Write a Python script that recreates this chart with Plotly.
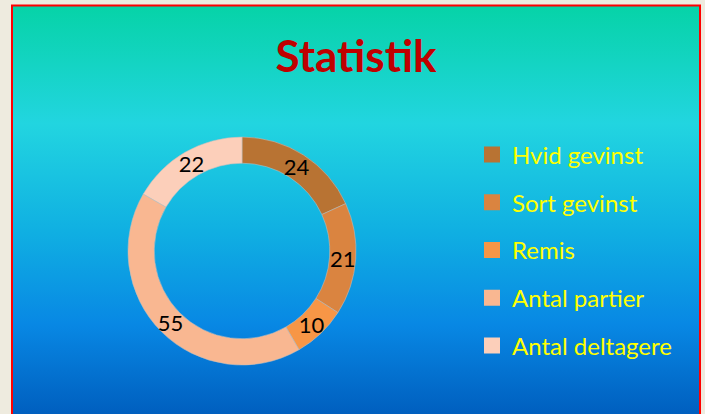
import base64
import plotly.graph_objects as go

labels = ["Hvid gevinst", "Sort gevinst", "Remis", "Antal partier", "Antal deltagere"]
values = [24, 21, 10, 55, 22]
colors = ["#B87333", "#DA8440", "#F79646", "#F9B791", "#FCCFBA"]
title_text = "Statistik"

W, H = 705, 414
FONT = "Lato"
CX, CY = 242, 251          # donut centre (px from top-left)
R_OUT = 114                # outer radius (px)
R_TXT = 122                # radius of the helper ring that carries the labels


def dom(r):
    return dict(x=[(CX - r) / W, (CX + r) / W],
                y=[(H - CY - r) / H, (H - CY + r) / H])


svg = (
    '<svg xmlns="http://www.w3.org/2000/svg" width="100" height="100" preserveAspectRatio="none">'
    '<defs><linearGradient id="g" x1="0" y1="0" x2="0" y2="1">'
    '<stop offset="0" stop-color="#06D3A7"/>'
    '<stop offset="0.29" stop-color="#22D5E0"/>'
    '<stop offset="0.55" stop-color="#10B0E2"/>'
    '<stop offset="0.78" stop-color="#0888E4"/>'
    '<stop offset="1" stop-color="#005FBF"/>'
    '</linearGradient></defs>'
    '<rect width="100" height="100" fill="url(#g)"/></svg>'
)
bg_src = "data:image/svg+xml;base64," + base64.b64encode(svg.encode()).decode()

fig = go.Figure()

# visible donut
fig.add_trace(go.Pie(
    labels=labels,
    values=values,
    hole=0.77,
    sort=False,
    direction="clockwise",
    rotation=0,
    marker=dict(colors=colors, line=dict(color="rgba(190,190,190,0.8)", width=0.7)),
    textinfo="none",
    hoverinfo="label+value",
    domain=dom(R_OUT),
    showlegend=False,
))

# transparent ring carrying the value labels at the middle of the visible ring
hole_txt = 2 * 101 / R_TXT - 1
fig.add_trace(go.Pie(
    labels=labels,
    values=values,
    hole=hole_txt,
    sort=False,
    direction="clockwise",
    rotation=0,
    marker=dict(colors=["rgba(0,0,0,0)"] * len(values), line=dict(width=0)),
    textinfo="value",
    textposition="inside",
    insidetextorientation="horizontal",
    textfont=dict(family=FONT, size=22, color="#000000"),
    hoverinfo="skip",
    domain=dom(R_TXT),
    showlegend=False,
))

# legend entries (one group each so they can be spaced like the original)
for lab, col in zip(labels, colors):
    fig.add_trace(go.Scatter(
        x=[None], y=[None], mode="markers", name=lab, legendgroup=lab,
        marker=dict(symbol="square", size=16, color=col),
    ))

fig.update_layout(
    width=W, height=H,
    margin=dict(l=0, r=0, t=0, b=0),
    paper_bgcolor="#EEEBDF",
    plot_bgcolor="rgba(0,0,0,0)",
    xaxis=dict(visible=False),
    yaxis=dict(visible=False),
    uniformtext=dict(mode="show", minsize=22),
    title=dict(
        text=title_text,
        font=dict(family=FONT, size=44, color="#C00000", weight="bold"),
        x=356 / W, xanchor="center", xref="paper",
        y=1 - 57 / H, yanchor="middle", yref="paper",
    ),
    legend=dict(
        x=472 / W, xanchor="left",
        y=1 - 132.5 / H, yanchor="top",
        font=dict(family=FONT, size=24, color="#FFFF00"),
        bgcolor="rgba(0,0,0,0)",
        tracegroupgap=13.5,
        traceorder="grouped",
        itemsizing="trace",
    ),
    images=[dict(
        source=bg_src, xref="paper", yref="paper",
        x=11 / W, y=1 - 5 / H, sizex=690 / W, sizey=409 / H,
        xanchor="left", yanchor="top", sizing="stretch", layer="below",
    )],
    shapes=[dict(
        type="rect", xref="paper", yref="paper",
        x0=12 / W, x1=700 / W, y0=-0.01, y1=1 - 5.5 / H,
        line=dict(color="#FF0000", width=2), layer="above",
    )],
    showlegend=True,
)

fig.write_html(
    "out.html",
    config={"displayModeBar": False},
    post_script=(
        "document.body.style.margin='0';"
        "document.documentElement.style.fontVariantLigatures='none';"
    ),
)
